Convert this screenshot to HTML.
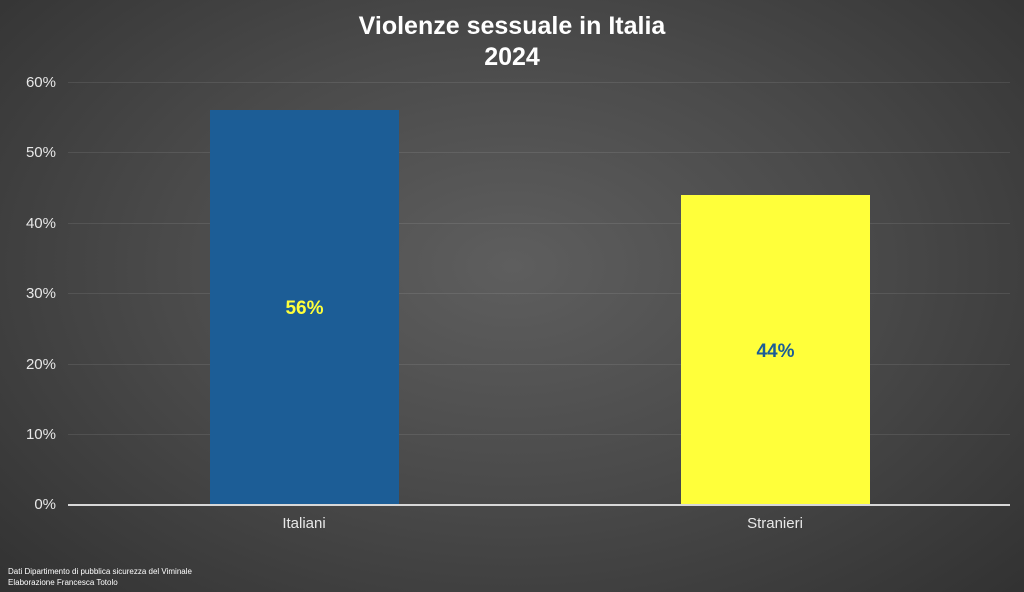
<!DOCTYPE html>
<html><head><meta charset="utf-8"><style>
html,body{margin:0;padding:0}
body{width:1024px;height:592px;overflow:hidden;background:radial-gradient(ellipse 75% 85% at 50% 45%,#5e5e5e 0%,#4a4a4a 45%,#2e2e2e 100%);font-family:"Liberation Sans",sans-serif;position:relative}
.t{position:absolute;left:0;width:1024px;text-align:center;color:#fff;font-weight:bold;font-size:25px;line-height:31px;top:11px}
.g{position:absolute;left:68px;width:942px;height:1px;background:rgba(255,255,255,0.09)}
.yl{position:absolute;left:0;width:56px;text-align:right;color:#e8e8e8;font-size:15px;line-height:16px}
.bar{position:absolute;width:189px}
.lab{position:absolute;font-weight:bold;font-size:19px;text-align:center;width:189px}
.xl{position:absolute;color:#e8e8e8;font-size:15px;text-align:center;width:200px;top:515px}
.f{position:absolute;left:8px;color:#fff;font-size:8px;line-height:11px}
</style></head><body>
<div class="t">Violenze sessuale in Italia<br>2024</div>
<div class="g" style="top:82px"></div>
<div class="g" style="top:152px"></div>
<div class="g" style="top:223px"></div>
<div class="g" style="top:293px"></div>
<div class="g" style="top:364px"></div>
<div class="g" style="top:434px"></div>
<div class="yl" style="top:75px">60%</div>
<div class="yl" style="top:145px">50%</div>
<div class="yl" style="top:216px">40%</div>
<div class="yl" style="top:286px">30%</div>
<div class="yl" style="top:357px">20%</div>
<div class="yl" style="top:427px">10%</div>
<div class="yl" style="top:497px">0%</div>
<div class="bar" style="left:210px;top:110px;height:395px;background:#1c5d96"></div>
<div class="bar" style="left:681px;top:195px;height:310px;background:#ffff3a"></div>
<div style="position:absolute;left:68px;top:504px;width:942px;height:2px;background:#d8d8d8"></div>
<div class="lab" style="left:210px;top:298px;color:#ffff3a">56%</div>
<div class="lab" style="left:681px;top:341px;color:#1c5d96">44%</div>
<div class="xl" style="left:204px">Italiani</div>
<div class="xl" style="left:675px">Stranieri</div>
<div class="f" style="top:566px">Dati Dipartimento di pubblica sicurezza del Viminale<br>Elaborazione Francesca Totolo</div>
</body></html>
